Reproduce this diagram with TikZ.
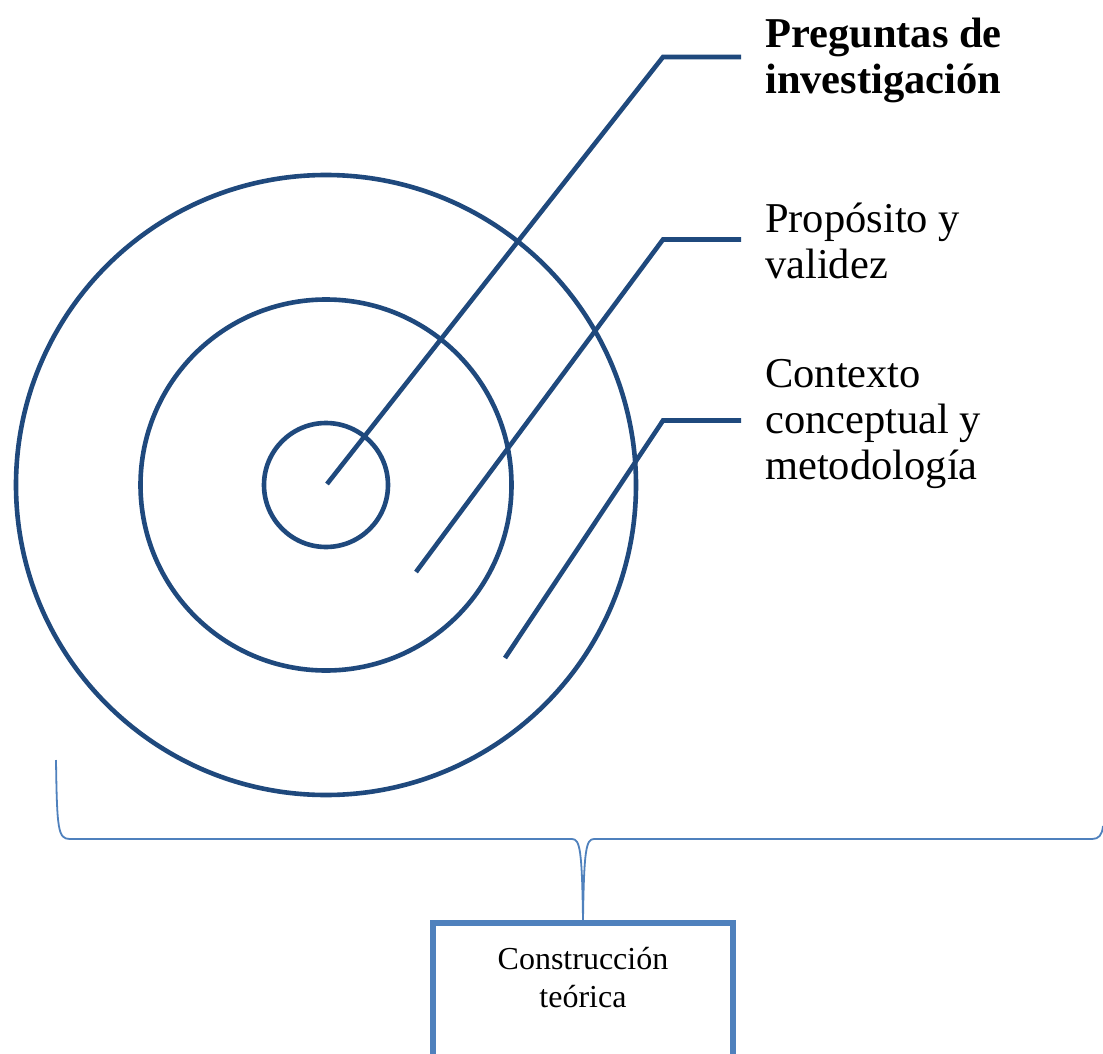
\documentclass[tikz,border=0pt]{standalone}
\usepackage{fontspec}
\setmainfont{Liberation Serif}
\definecolor{darkblue}{RGB}{31,73,125}
\definecolor{lightblue}{RGB}{79,129,189}
\begin{document}
\begin{tikzpicture}[x=1pt,y=-1pt,
  ring/.style={circle,draw=darkblue,line width=4.6pt,inner sep=0pt},
  leader/.style={draw=darkblue,line width=4.6pt,line join=miter},
  lbl/.style={anchor=north west,inner sep=0pt,align=left,font=\fontsize{42.5}{46}\selectfont},
  bracestyle/.style={draw=lightblue,line width=1.8pt},
  boxstyle/.style={draw=lightblue,line width=5.5pt,rectangle,inner sep=0pt},
  boxtxt/.style={anchor=north,inner sep=0pt,align=center,font=\fontsize{32}{38}\selectfont}]
\useasboundingbox (0,0) rectangle (1103,1054);
\clip (0,0) rectangle (1103,1054);
\fill[white] (0,0) rectangle (1103,1054);
% rings
\node[ring,minimum size=620pt] (outer) at (326,485) {};
\node[ring,minimum size=371pt] (middle) at (326,485) {};
\node[ring,minimum size=124pt] (inner) at (326,485) {};
% leader anchor points
\coordinate (s1) at (327,484);
\coordinate (s2) at (416,572);
\coordinate (s3) at (505,658);
\coordinate (b1) at (663,57);
\coordinate (b2) at (663,239.5);
\coordinate (b3) at (663,420.5);
\coordinate (e1) at (741,57);
\coordinate (e2) at (741,239.5);
\coordinate (e3) at (741,420.5);
% labels
\node[lbl,font=\fontsize{42.5}{46}\selectfont\bfseries] (t1) at (765,14.8) {\strut Preguntas de\\investigación};
\node[lbl] (t2) at (765,199.8) {\strut Propósito y\\validez};
\node[lbl] (t3) at (765,354.8) {\strut Contexto\\conceptual y\\metodología};
% leaders
\draw[leader] (s1) -- (b1) -- (e1);
\draw[leader] (s2) -- (b2) -- (e2);
\draw[leader] (s3) -- (b3) -- (e3);
% box
\node[boxstyle,minimum width=300pt,minimum height=170pt,anchor=north] (box) at (583,920) {};
\node[boxtxt] (boxtext) at (583,942.4) {\strut Construcción\\teórica};
% brace
\coordinate (bl) at (56,760);
\coordinate (br) at (1103,826);
\draw[bracestyle] (bl) .. controls (57,830) and (58,839) .. (70,839)
  -- (572,839) .. controls (580,839) and (582,850) .. (box.north)
  .. controls (584,850) and (586,839) .. (594,839)
  -- (1092,839) .. controls (1099,839) and (1102,835) .. (br);
\end{tikzpicture}
\end{document}
